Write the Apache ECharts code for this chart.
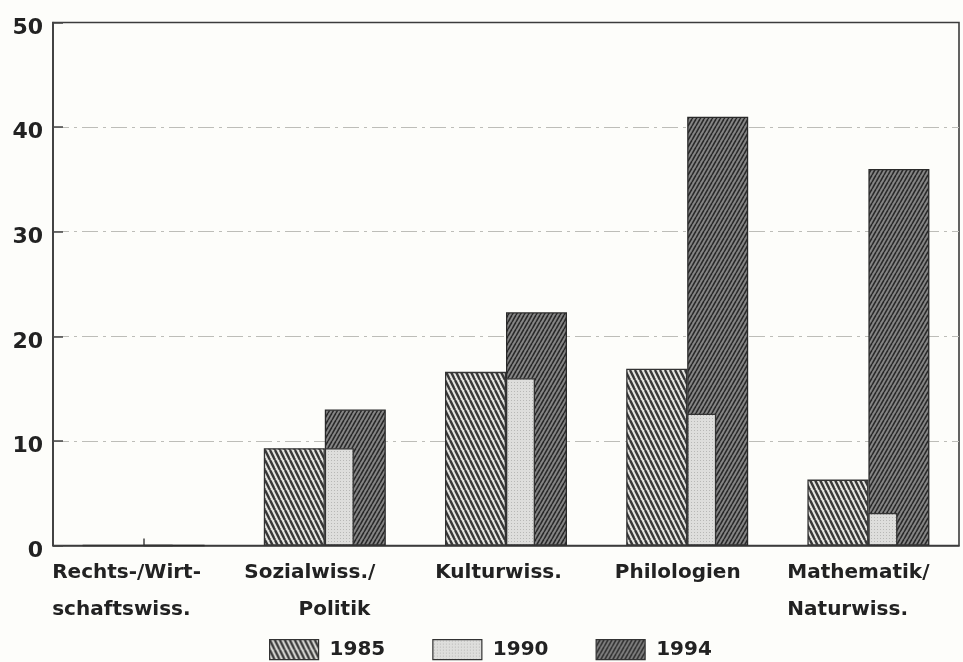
<!DOCTYPE html>
<html>
<head>
<meta charset="utf-8">
<script src="https://cdn.jsdelivr.net/npm/echarts@6/dist/echarts.min.js"></script>
<style>
  html, body { margin: 0; padding: 0; background: #fdfdfa; }
  #chart { width: 963px; height: 662px; }
</style>
</head>
<body>
<div id="chart"></div>
<script>
// ---- data ----
var categories = ['Rechts-/Wirt-\nschaftswiss.', 'Sozialwiss./\nPolitik', 'Kulturwiss.', 'Philologien', 'Mathematik/\nNaturwiss.'];
var seriesNames = ['1985', '1990', '1994'];
var v1985 = [0, 9.3, 16.6, 16.9, 6.3];
var v1990 = [0, 9.3, 16.0, 12.6, 3.1];
var v1994 = [0, 13.0, 22.3, 41.0, 36.0];
var yTicks = [0, 10, 20, 30, 40, 50];

// ---- patterns ----
function makePattern(w, h, bg, fg, lw, dir) {
  var c = document.createElement('canvas');
  c.width = w; c.height = h;
  var ctx = c.getContext('2d');
  ctx.fillStyle = bg; ctx.fillRect(0, 0, w, h);
  ctx.strokeStyle = fg; ctx.lineWidth = lw;
  for (var k = -1; k <= 1; k++) {
    ctx.beginPath();
    if (dir === 'back') { ctx.moveTo(k * w, 0); ctx.lineTo(k * w + w, h); }
    else { ctx.moveTo(k * w, h); ctx.lineTo(k * w + w, 0); }
    ctx.stroke();
  }
  return { image: c, repeat: 'repeat' };
}
function makeDots() {
  var c = document.createElement('canvas');
  c.width = 6; c.height = 6;
  var ctx = c.getContext('2d');
  ctx.fillStyle = '#dededc'; ctx.fillRect(0, 0, 6, 6);
  ctx.fillStyle = '#b8b8b6';
  ctx.fillRect(1, 1, 1, 1); ctx.fillRect(4, 4, 1, 1); ctx.fillRect(4, 1, 1, 1); ctx.fillRect(1, 4, 1, 1);
  return { image: c, repeat: 'repeat' };
}
var pat1985 = makePattern(5, 10, '#e4e4e0', '#383838', 2.4, 'back');
var pat1990 = makeDots();
var pat1994 = makePattern(4, 7, '#868686', '#282828', 1.6, 'fwd');

var FONT = 'DejaVu Sans';
var labelShift = [34, 30, 15, 19, 20];

var chart = echarts.init(document.getElementById('chart'), null, { renderer: 'canvas' });
chart.setOption({
  backgroundColor: '#fdfdfa',
  animation: false,
  textStyle: { fontFamily: FONT },
  grid: {
    left: 53, right: 4, top: 22.5, bottom: 116.5,
    show: true, borderColor: '#3c3c3c', borderWidth: 1.6, backgroundColor: 'transparent'
  },
  legend: {
    data: seriesNames,
    left: 264, top: 634,
    itemWidth: 49, itemHeight: 20, itemGap: 47,
    icon: 'rect',
    itemStyle: { borderColor: '#333', borderWidth: 1.2 },
    textStyle: { fontFamily: FONT, fontWeight: 'bold', fontSize: 20, color: '#222', padding: [0, 0, 0, 6] }
  },
  xAxis: [{
    type: 'category',
    data: categories.map(function (c, i) {
      return { value: c, textStyle: { padding: [0, labelShift[i], 0, 0] } };
    }),
    gridIndex: 0,
    axisLine: { show: true, lineStyle: { color: '#3c3c3c', width: 1.6 } },
    axisTick: { show: true, inside: true, alignWithLabel: true, length: 7, lineStyle: { color: '#444', width: 1.5 } },
    axisLabel: {
      interval: 0, margin: 9,
      fontFamily: FONT, fontWeight: 'bold', fontSize: 20, color: '#222', lineHeight: 37,
      formatter: function (v) {
        var parts = v.split('\n');
        if (v.indexOf('Politik') >= 0) return '{l|' + parts[0] + '}\n{r|' + parts[1] + '}';
        return parts.map(function (p) { return '{l|' + p + '}'; }).join('\n');
      },
      rich: {
        l: { align: 'left', fontFamily: FONT, fontWeight: 'bold', fontSize: 20, color: '#222', lineHeight: 37 },
        r: { align: 'right', fontFamily: FONT, fontWeight: 'bold', fontSize: 20, color: '#222', lineHeight: 37, padding: [0, 5, 0, 0] }
      }
    }
  }, {
    type: 'category',
    data: categories,
    gridIndex: 0,
    show: false
  }],
  yAxis: {
    type: 'value', min: 0, max: 50, interval: 10,
    axisLine: { show: true, lineStyle: { color: '#3c3c3c', width: 1.6 } },
    axisTick: { show: true, inside: true, length: 10, lineStyle: { color: '#444', width: 1.5 } },
    axisLabel: {
      margin: 10, fontFamily: FONT, fontWeight: 'bold', fontSize: 22, color: '#222',
      formatter: function (v) { return yTicks.indexOf(v) >= 0 ? '{n|' + v + '}' : ''; },
      rich: {
        n: { fontFamily: FONT, fontWeight: 'bold', fontSize: 22, color: '#222', padding: [11, 0, 0, 0] }
      }
    },
    splitLine: { show: true, showMinLine: false, showMaxLine: false, lineStyle: { color: '#bdbdb8', width: 1.2, type: [16, 5, 3, 5] } }
  },
  series: [
    {
      name: '1985', type: 'bar', xAxisIndex: 0, data: v1985,
      barWidth: 61, barGap: '0%', z: 2,
      itemStyle: { color: pat1985, borderColor: '#333', borderWidth: 1.3 }
    },
    {
      name: '1994', type: 'bar', xAxisIndex: 0, data: v1994,
      barWidth: 61, barGap: '0%', z: 2,
      itemStyle: { color: pat1994, borderColor: '#2a2a2a', borderWidth: 1.3 }
    },
    {
      name: '_spacer', type: 'bar', xAxisIndex: 1, data: [null, null, null, null, null],
      barWidth: 29, barGap: '0%', silent: true,
      itemStyle: { color: 'transparent' }
    },
    {
      name: '1990', type: 'bar', xAxisIndex: 1, data: v1990,
      barWidth: 29, barGap: '0%', z: 4,
      itemStyle: { color: pat1990, borderColor: '#333', borderWidth: 1.3 }
    }
  ]
});
</script>
</body>
</html>
